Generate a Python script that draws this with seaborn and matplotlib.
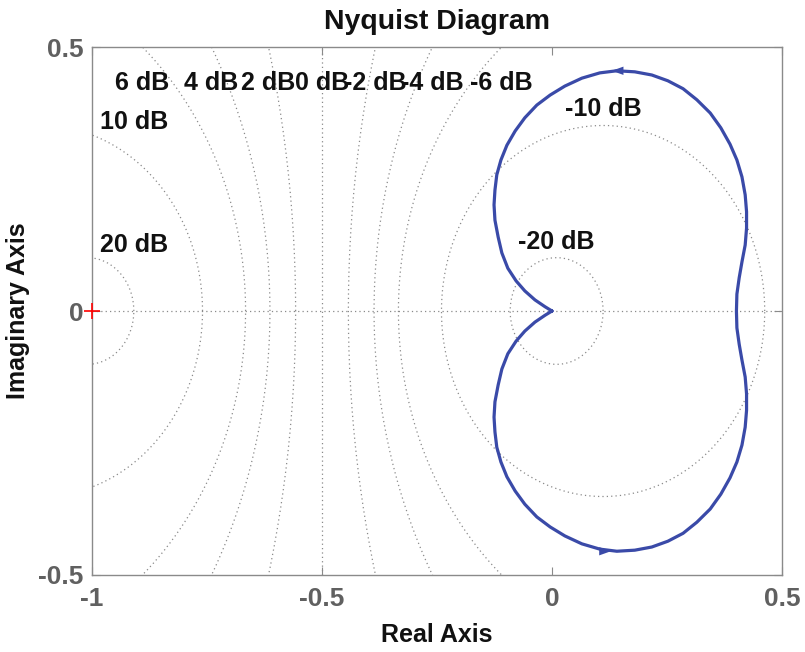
import numpy as np
import pandas as pd
import matplotlib
matplotlib.use("Agg")
import matplotlib.pyplot as plt
import seaborn as sns

# Upper half of the Nyquist locus (real, imaginary), from the origin round to the real axis
re_half = [0.000, -0.015, -0.037, -0.059, -0.078, -0.096, -0.109, -0.117, -0.124,
           -0.126, -0.124, -0.120, -0.111, -0.098, -0.080, -0.059, -0.033, -0.004,
           0.028, 0.065, 0.104, 0.141, 0.180, 0.217, 0.252, 0.285, 0.315, 0.344,
           0.367, 0.387, 0.402, 0.413, 0.420, 0.423, 0.423, 0.420, 0.413, 0.407,
           0.402, 0.401]
im_half = [0.000, 0.008, 0.021, 0.038, 0.057, 0.081, 0.110, 0.140, 0.172,
           0.201, 0.229, 0.258, 0.286, 0.314, 0.341, 0.366, 0.390, 0.409,
           0.426, 0.441, 0.451, 0.455, 0.453, 0.447, 0.436, 0.421, 0.400, 0.375,
           0.347, 0.316, 0.286, 0.254, 0.220, 0.188, 0.157, 0.125, 0.093, 0.063,
           0.032, 0.000]

# Constant-magnitude (M-circle) grid levels in dB
db_levels = [-20, -10, -6, -4, -2, 0, 2, 4, 6, 10, 20]

x_ticks = [-1, -0.5, 0, 0.5]
y_ticks = [-0.5, 0, 0.5]
x_lim = (-1, 0.5)
y_lim = (-0.5, 0.5)

sns.set_theme(style="white")
plt.rcParams["font.family"] = ["Liberation Sans", "DejaVu Sans"]
plt.rcParams["font.weight"] = "bold"

fig = plt.figure(figsize=(8.05, 6.52), dpi=100)
ax = fig.add_axes([0.1143, 0.1181, 0.8571, 0.8098])

grid_kw = dict(color="#8a8a8a", linestyle=(0, (1, 2.5)), linewidth=0.9, zorder=1)
label_kw = dict(fontsize=18, fontweight="bold", color="#111111", zorder=3)

t = np.linspace(0, 2 * np.pi, 721)
for db in db_levels:
    if db == 0:
        ax.axvline(-0.5, **grid_kw)
        ax.text(-0.5, 0.432, "0 dB", ha="center", va="center", **label_kw)
        continue
    m = 10 ** (db / 20)
    cx = m ** 2 / (1 - m ** 2)
    r = abs(m / (1 - m ** 2))
    ax.plot(cx + r * np.cos(t), r * np.sin(t), **grid_kw)
    top = y_lim[1]
    if r > top:
        # label where the circle meets the upper edge, on the side inside the view
        dx = np.sqrt(r ** 2 - top ** 2)
        xl = cx + dx if cx < 0 else cx - dx
        ax.text(xl, 0.432, f"{db} dB", ha="center", va="center", **label_kw)
    elif cx < x_lim[0]:
        # circle centred left of the view: label where it meets the left edge
        yl = np.sqrt(r ** 2 - (x_lim[0] - cx) ** 2)
        ax.annotate(f"{db} dB", (x_lim[0], yl), xytext=(6, 1),
                    textcoords="offset points", ha="left", va="bottom", **label_kw)
    else:
        ax.annotate(f"{db} dB", (cx, r), xytext=(0, 3),
                    textcoords="offset points", ha="center", va="bottom", **label_kw)

ax.axhline(0, **grid_kw)

# Closed Nyquist contour: mirrored half for negative frequencies
re_arr = np.array(re_half)
im_arr = np.array(im_half)
curve = pd.DataFrame({
    "re": np.concatenate([re_arr, re_arr[::-1][1:]]),
    "im": np.concatenate([-im_arr, im_arr[::-1][1:]]),
})
line_color = "#3a4aa8"
sns.lineplot(data=curve, x="re", y="im", sort=False, estimator=None,
             color=line_color, linewidth=2.3, ax=ax, zorder=4)

# Direction arrows on the contour
arrow_kw = dict(arrowstyle="-|>,head_length=0.7,head_width=0.25",
                color=line_color, lw=0, shrinkA=0, shrinkB=0)
ax.annotate("", xy=(0.130, 0.455), xytext=(0.152, 0.455), arrowprops=arrow_kw, zorder=5)
ax.annotate("", xy=(0.128, -0.455), xytext=(0.106, -0.455), arrowprops=arrow_kw, zorder=5)

# Critical point
ax.plot([-1], [0], marker="+", color="red", markersize=11, mew=1.2,
        clip_on=False, zorder=6)

ax.set_xlim(*x_lim)
ax.set_ylim(*y_lim)
ax.set_xticks(x_ticks)
ax.set_yticks(y_ticks)
ax.set_xticklabels(["-1", "-0.5", "0", "0.5"])
ax.set_yticklabels(["-0.5", "0", "0.5"])
ax.tick_params(axis="both", which="both", direction="in", length=6, width=0.8,
               color="#8a8a8a", labelsize=19, labelcolor="#606060",
               top=True, right=True, bottom=True, left=True)
ax.tick_params(axis="x", pad=9)
ax.tick_params(axis="y", pad=6)
for lbl in ax.get_xticklabels() + ax.get_yticklabels():
    lbl.set_fontweight("bold")
for sp in ax.spines.values():
    sp.set_visible(True)
    sp.set_color("#8a8a8a")
    sp.set_linewidth(1.0)

ax.set_title("Nyquist Diagram", fontsize=20.5, fontweight="bold", color="#111111", pad=13)
ax.set_xlabel("Real Axis", fontsize=18, fontweight="bold", color="#111111", labelpad=8)
ax.set_ylabel("Imaginary Axis", fontsize=18, fontweight="bold", color="#111111", labelpad=6)

fig.savefig("out.png", dpi=100)
